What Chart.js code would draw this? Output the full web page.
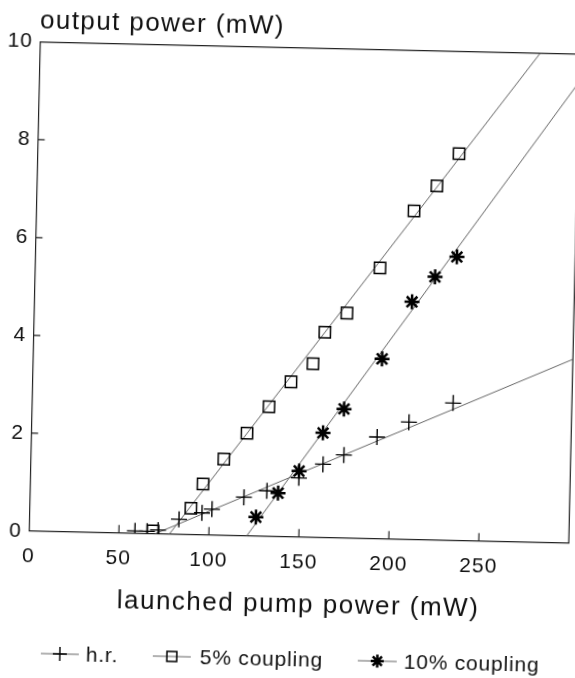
<!DOCTYPE html>
<html>
<head>
<meta charset="utf-8">
<script src="https://cdn.jsdelivr.net/npm/chart.js@4/dist/chart.umd.min.js"></script>
<style>
html, body { margin: 0; padding: 0; background: #fff; overflow: hidden; }
#wrap { width: 575px; height: 678px; transform: rotate(1.29deg); transform-origin: 287.5px 339px; }
canvas { display: block; }
</style>
</head>
<body>
<div id="wrap"><canvas id="c" width="575" height="678"></canvas></div>
<script>
// ---- data ----
const xTickValues = [0, 50, 100, 150, 200, 250];
const yTickValues = [0, 2, 4, 6, 8, 10];
const seriesNames = ['h.r.', '5% coupling', '10% coupling'];
const xTitle = 'launched pump power (mW)';
const yTitle = 'output power (mW)';

const hrX  = [58.9, 65.6, 71.7, 83.2, 95.9, 101.4, 119.0, 131.7, 149.3, 162.5, 174.0, 192.2, 209.7, 234.0];
const hrY  = [0.05, 0.05, 0.08, 0.31, 0.45, 0.53, 0.79, 0.93, 1.21, 1.50, 1.70, 2.08, 2.40, 2.81];
const c5X  = [68.9, 89.7, 96.1, 107.4, 119.9, 131.8, 143.7, 155.7, 161.9, 173.9, 191.7, 209.9, 222.3, 234.2];
const c5Y  = [0.06, 0.54, 1.04, 1.56, 2.10, 2.65, 3.17, 3.55, 4.20, 4.60, 5.54, 6.72, 7.24, 7.91];
const c10X = [125.9, 137.9, 149.3, 162.1, 173.5, 194.0, 209.9, 222.4, 234.3];
const c10Y = [0.39, 0.89, 1.35, 2.14, 2.64, 3.68, 4.86, 5.38, 5.80];

// fitted straight lines (end points)
const hrFitX  = [70, 300];
const hrFitY  = [0, 3.76];
const c5FitX  = [78, 278];
const c5FitY  = [0, 10];
const c10FitX = [121, 300];
const c10FitY = [0, 9.43];

const pts = (xs, ys) => xs.map((x, i) => ({ x: x, y: ys[i] }));

const FONT = "'Liberation Sans', Arial, sans-serif";
const INK = '#111';
const LINE = '#666';

const framePlugin = {
  id: 'frame',
  beforeDraw(chart) {
    chart.ctx.letterSpacing = '1px';
  },
  beforeDatasetsDraw(chart) {
    const { ctx, chartArea: a, scales } = chart;
    ctx.save();
    ctx.strokeStyle = '#222';
    ctx.lineWidth = 1.2;
    ctx.beginPath();
    // top and right frame lines
    ctx.moveTo(a.left, a.top); ctx.lineTo(a.right, a.top); ctx.lineTo(a.right, a.bottom);
    // inward tick marks
    xTickValues.forEach(v => {
      if (v === 0) return;
      const px = scales.x.getPixelForValue(v);
      ctx.moveTo(px, a.bottom); ctx.lineTo(px, a.bottom - 8);
    });
    yTickValues.forEach(v => {
      if (v === 0 || v === 10) return;
      const py = scales.y.getPixelForValue(v);
      ctx.moveTo(a.left, py); ctx.lineTo(a.left + 7, py);
    });
    ctx.stroke();
    ctx.restore();
  },
  afterDraw(chart) {
    const { ctx, chartArea: a } = chart;
    ctx.save();
    ctx.fillStyle = INK;
    ctx.textBaseline = 'alphabetic';
    ctx.font = '26px ' + FONT;
    ctx.letterSpacing = '1.4px';
    ctx.textAlign = 'left';
    ctx.fillText(yTitle, a.left - 0.3, 34);
    ctx.letterSpacing = '1.5px';
    ctx.textAlign = 'center';
    ctx.fillText(xTitle, 304, 612);

    // legend
    const items = [
      { ds: 0, x0: 48, x1: 86, tx: 93 },
      { ds: 1, x0: 160, x1: 198, tx: 207 },
      { ds: 2, x0: 365, x1: 404, tx: 411 }
    ];
    const ly = 659;
    ctx.font = '21px ' + FONT;
    ctx.letterSpacing = '0.8px';
    ctx.textAlign = 'left';
    ctx.textBaseline = 'middle';
    items.forEach(it => {
      const ds = chart.data.datasets[it.ds];
      ctx.strokeStyle = LINE;
      ctx.lineWidth = 1;
      ctx.beginPath();
      ctx.moveTo(it.x0, ly); ctx.lineTo(it.x1, ly);
      ctx.stroke();
      ctx.strokeStyle = '#000';
      ctx.fillStyle = 'rgba(0,0,0,0)';
      ctx.lineWidth = ds.borderWidth;
      Chart.helpers.drawPoint(ctx, { pointStyle: ds.pointStyle, radius: ds.pointRadius - 1, rotation: 0, borderWidth: ds.borderWidth }, (it.x0 + it.x1) / 2, ly);
      ctx.fillStyle = INK;
      ctx.fillText(ds.label, it.tx, ly + 1);
    });
    ctx.restore();
  }
};

const ctx = document.getElementById('c').getContext('2d');
new Chart(ctx, {
  type: 'scatter',
  data: {
    datasets: [
      { label: seriesNames[0], data: pts(hrX, hrY), pointStyle: 'cross', pointRadius: 8, borderWidth: 1.4,
        borderColor: '#000', backgroundColor: 'rgba(0,0,0,0)', showLine: false },
      { label: seriesNames[1], data: pts(c5X, c5Y), pointStyle: 'rect', pointRadius: 8, borderWidth: 1.5,
        borderColor: '#000', backgroundColor: 'rgba(0,0,0,0)', showLine: false },
      { label: seriesNames[2], data: pts(c10X, c10Y), pointStyle: 'star', pointRadius: 7.5, borderWidth: 2.5,
        borderColor: '#000', backgroundColor: 'rgba(0,0,0,0)', showLine: false },
      { label: 'h.r. fit', data: pts(hrFitX, hrFitY), showLine: true, pointRadius: 0, borderWidth: 1, borderColor: LINE },
      { label: '5% fit', data: pts(c5FitX, c5FitY), showLine: true, pointRadius: 0, borderWidth: 1, borderColor: LINE },
      { label: '10% fit', data: pts(c10FitX, c10FitY), showLine: true, pointRadius: 0, borderWidth: 1, borderColor: LINE }
    ]
  },
  options: {
    responsive: false,
    animation: false,
    devicePixelRatio: 1,
    layout: { autoPadding: false, padding: { left: 0.3, right: 1.7, top: 47.6, bottom: 101.2 } },
    plugins: { legend: { display: false }, tooltip: { enabled: false }, title: { display: false } },
    scales: {
      x: {
        type: 'linear', position: 'bottom', min: 0, max: 300,
        grid: { display: false, drawTicks: false },
        border: { display: true, color: '#222', width: 1.2 },
        ticks: { stepSize: 50, color: INK, padding: 13, font: { family: FONT, size: 21 } },
        afterBuildTicks: s => { s.ticks = xTickValues.map(v => ({ value: v })); },
        afterFit: s => { s.height = 40; s.paddingLeft = 0; s.paddingRight = 0; }
      },
      y: {
        type: 'linear', position: 'left', min: 0, max: 10,
        grid: { display: false, drawTicks: false },
        border: { display: true, color: '#222', width: 1.2 },
        ticks: { stepSize: 2, color: INK, padding: 7, font: { family: FONT, size: 21 } },
        afterBuildTicks: s => { s.ticks = yTickValues.map(v => ({ value: v })); },
        afterFit: s => { s.width = 33; s.paddingTop = 0; s.paddingBottom = 0; }
      }
    }
  },
  plugins: [framePlugin]
});
</script>
</body>
</html>
